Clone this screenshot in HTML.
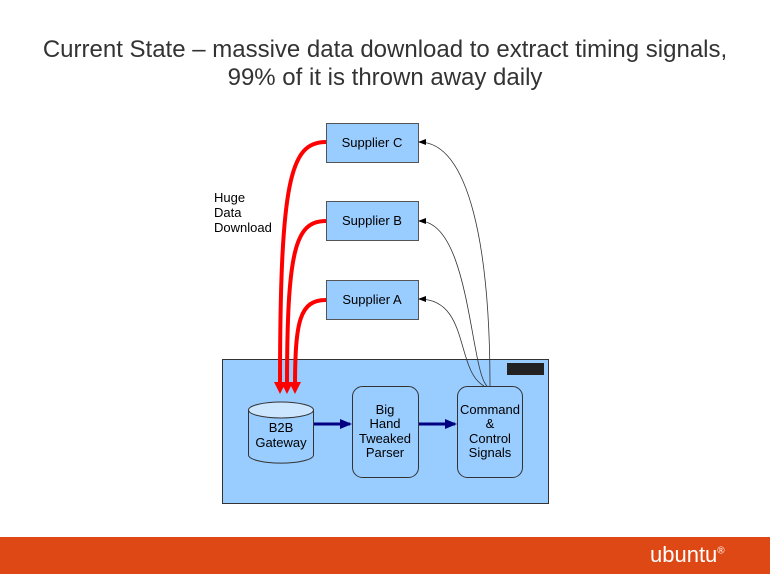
<!DOCTYPE html>
<html><head><style>
body{margin:0;width:770px;height:578px;background:#fff;overflow:hidden;position:relative;font-family:"Liberation Sans",sans-serif}
.t{position:absolute;left:0;width:770px;top:36px;text-align:center;font-size:24px;line-height:28px;color:#333}
.bar{position:absolute;left:0;top:537px;width:770px;height:37px;background:#dd4814}
.logo{position:absolute;left:650px;top:542px;color:#fff;font-size:22px}
.logo sup{font-size:10px}
</style></head><body>
<div class="t">Current State – massive data download to extract timing signals,<br>99% of it is thrown away daily</div>
<svg width="770" height="578" style="position:absolute;left:0;top:0" font-family="Liberation Sans, sans-serif" font-size="13">
<defs>
<marker id="r" markerWidth="12" markerHeight="12" refX="6" refY="6" orient="auto" markerUnits="userSpaceOnUse"><path d="M0,0L12,6L0,12z" fill="#f00"/></marker>
<marker id="b" markerWidth="12" markerHeight="10" refX="10" refY="5" orient="auto" markerUnits="userSpaceOnUse"><path d="M0,0L12,5L0,10z" fill="#000080"/></marker>
<marker id="k" markerWidth="8" markerHeight="8" refX="7" refY="4" orient="auto" markerUnits="userSpaceOnUse"><path d="M0,1L8,4L0,7z" fill="#000"/></marker>
</defs>
<rect x="222.5" y="359.5" width="326" height="144" fill="#99ccff" stroke="#333"/>
<rect x="507" y="363" width="37" height="12" fill="#222"/>
<rect x="326.5" y="123.5" width="92" height="39" fill="#99ccff" stroke="#555"/>
<rect x="326.5" y="201.5" width="92" height="39" fill="#99ccff" stroke="#555"/>
<rect x="326.5" y="280.5" width="92" height="39" fill="#99ccff" stroke="#555"/>
<text x="372" y="147" text-anchor="middle">Supplier C</text>
<text x="372" y="225" text-anchor="middle">Supplier B</text>
<text x="372" y="304" text-anchor="middle">Supplier A</text>
<text x="214" y="202">Huge</text><text x="214" y="217">Data</text><text x="214" y="232">Download</text>
<path d="M326,142C290,142 280,180 280,388" fill="none" stroke="#f00" stroke-width="4" marker-end="url(#r)"/>
<path d="M326,221C295,221 287,250 287,388" fill="none" stroke="#f00" stroke-width="4" marker-end="url(#r)"/>
<path d="M326,300C300,300 295,320 295,388" fill="none" stroke="#f00" stroke-width="4" marker-end="url(#r)"/>
<path d="M248.5,410v45a32,8 0 0 0 65,0v-45" fill="#99ccff" stroke="#333"/>
<ellipse cx="281" cy="410" rx="32.5" ry="8" fill="#cce6ff" stroke="#333"/>
<text x="281" y="432" text-anchor="middle">B2B</text><text x="281" y="447" text-anchor="middle">Gateway</text>
<rect x="352.5" y="386.5" width="66" height="91" rx="10" fill="#99ccff" stroke="#333"/>
<text x="385" y="414" text-anchor="middle">Big</text><text x="385" y="428" text-anchor="middle">Hand</text><text x="385" y="443" text-anchor="middle">Tweaked</text><text x="385" y="457" text-anchor="middle">Parser</text>
<rect x="457.5" y="386.5" width="65" height="91" rx="10" fill="#99ccff" stroke="#333"/>
<text x="490" y="414" text-anchor="middle">Command</text><text x="490" y="428" text-anchor="middle">&amp;</text><text x="490" y="443" text-anchor="middle">Control</text><text x="490" y="457" text-anchor="middle">Signals</text>
<path d="M314,424H350" stroke="#000080" stroke-width="3" marker-end="url(#b)"/>
<path d="M419,424H455" stroke="#000080" stroke-width="3" marker-end="url(#b)"/>
<path d="M490,386C490,250 470,142 419,142" fill="none" stroke="#333" stroke-width="0.8" marker-end="url(#k)"/>
<path d="M487,386C470,370 470,221 419,221" fill="none" stroke="#333" stroke-width="0.8" marker-end="url(#k)"/>
<path d="M484,386C455,370 470,299 419,299" fill="none" stroke="#333" stroke-width="0.8" marker-end="url(#k)"/>
</svg>
<div class="bar"></div>
<div class="logo">ubuntu<sup>®</sup></div>
</body></html>
